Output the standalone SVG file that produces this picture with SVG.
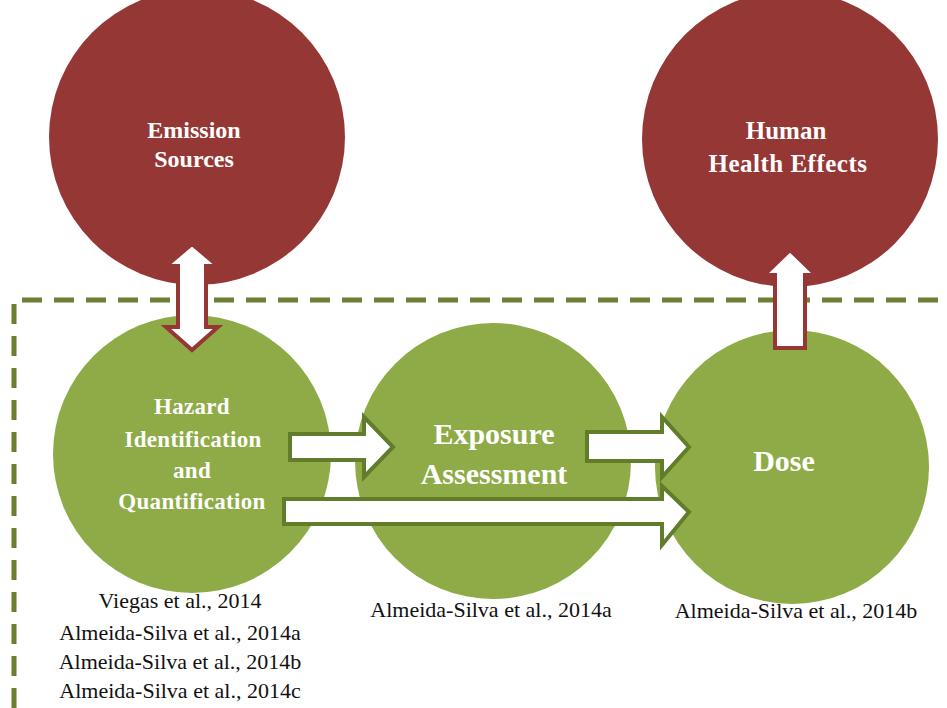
<svg xmlns="http://www.w3.org/2000/svg" width="947" height="708" viewBox="0 0 947 708">
<style>
.red{fill:#953735}
.grn{fill:#8eab47}
.ra{fill:#ffffff;stroke:#953735;stroke-width:4;stroke-linejoin:miter}
.ga{fill:#ffffff;stroke:#617d2c;stroke-width:4;stroke-linejoin:miter}
.lbl{font-family:"Liberation Serif","Times New Roman",serif;font-weight:bold;fill:#ffffff;text-anchor:middle}
.cit{font-family:"Liberation Serif","Times New Roman",serif;font-size:22px;fill:#111111;text-anchor:middle}
.frame{fill:none;stroke:#6b7f32;stroke-width:5;stroke-dasharray:20 12;stroke-linejoin:round}
</style>
<rect width="947" height="708" fill="#ffffff"/>
<g id="frame">
<path class="frame" d="M14 708 L14 300 L947 300"/>
</g>
<g id="emission-sources">
<circle class="red" cx="197" cy="137" r="148"/>
<text class="lbl" font-size="24" x="194" y="138">Emission</text>
<text class="lbl" font-size="24" x="194" y="167">Sources</text>
</g>
<g id="human-health-effects">
<circle class="red" cx="790" cy="139" r="148"/>
<text class="lbl" font-size="25" x="786" y="139">Human</text>
<text class="lbl" font-size="25" letter-spacing="0.5" x="788" y="172">Health Effects</text>
</g>
<g id="hazard">
<circle class="grn" cx="192" cy="454" r="139"/>
<text class="lbl" font-size="23" letter-spacing="0.3" x="192" y="414">Hazard</text>
<text class="lbl" font-size="23" letter-spacing="0.3" x="193" y="447">Identification</text>
<text class="lbl" font-size="23" letter-spacing="0.3" x="192" y="478">and</text>
<text class="lbl" font-size="23" letter-spacing="0.3" x="192" y="509">Quantification</text>
</g>
<g id="exposure">
<circle class="grn" cx="493" cy="461" r="138"/>
<text class="lbl" font-size="30" x="494" y="444">Exposure</text>
<text class="lbl" font-size="30" x="494" y="484">Assessment</text>
</g>
<g id="dose">
<circle class="grn" cx="792" cy="467" r="137"/>
<text class="lbl" font-size="30" x="784" y="471">Dose</text>
</g>
<g id="connectors">
<polygon class="ra" points="192,244 218,266 206,266 206,327 218,327 192,350 166,327 178,327 178,266 166,266"/>
<polygon class="ra" points="790,250 816,275 805,275 805,348 775,348 775,275 764,275"/>
<polygon class="ga" points="290,434 364,434 364,417 393,447 364,477 364,460 290,460"/>
<polygon class="ga" points="587,432 662,432 662,417 689,447 662,477 662,461 587,461"/>
<polygon class="ga" points="284,499 662,499 662,486 689,512 662,545 662,524 284,524"/>
</g>
<g id="citations">
<text class="cit" x="180" y="608">Viegas et al., 2014</text>
<text class="cit" x="180" y="640">Almeida-Silva et al., 2014a</text>
<text class="cit" x="180" y="669">Almeida-Silva et al., 2014b</text>
<text class="cit" x="180" y="698">Almeida-Silva et al., 2014c</text>
<text class="cit" x="491" y="617">Almeida-Silva et al., 2014a</text>
<text class="cit" x="796" y="618">Almeida-Silva et al., 2014b</text>
</g>
</svg>
